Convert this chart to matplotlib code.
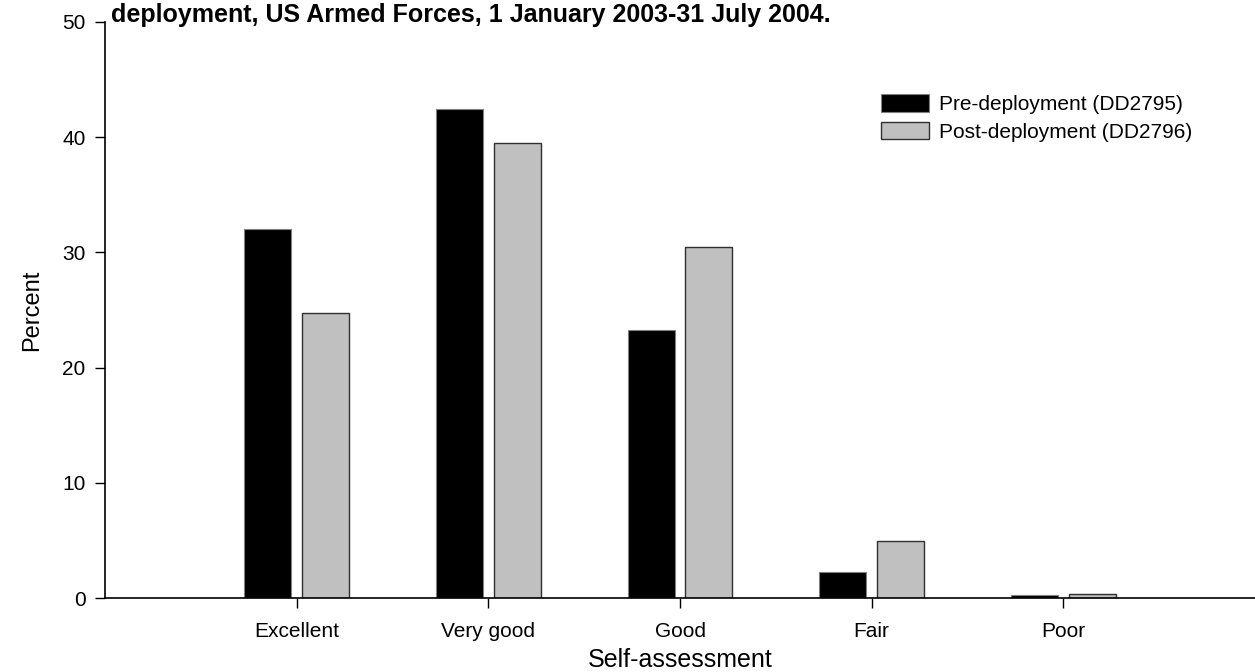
import matplotlib
matplotlib.use("Agg")
import matplotlib.pyplot as plt
import numpy as np

plt.rcParams['font.family'] = ['Liberation Sans', 'DejaVu Sans']

categories = ["Excellent", "Very good", "Good", "Fair", "Poor"]
pre_deployment = [32.0, 42.4, 23.3, 2.3, 0.25]
post_deployment = [24.7, 39.5, 30.5, 5.0, 0.4]
series_labels = ["Pre-deployment (DD2795)", "Post-deployment (DD2796)"]
y_ticks = [0, 10, 20, 30, 40, 50]
title_text = "deployment, US Armed Forces, 1 January 2003-31 July 2004."

fig = plt.figure(figsize=(12.55, 6.72), dpi=100)
ax = fig.add_axes([105 / 1255, (672 - 598.3) / 672, 1150 / 1255, (598.3 - 21.7) / 672])

x = np.arange(len(categories))
w = 0.245
ax.bar(x - 0.15, pre_deployment, width=w, color="black", edgecolor="#808080",
       linewidth=0.8, label=series_labels[0], zorder=2)
ax.bar(x + 0.15, post_deployment, width=w, color="#c0c0c0", edgecolor="#303030",
       linewidth=1.0, label=series_labels[1], zorder=2)

ax.set_xlim(-1, 5)
ax.set_ylim(0, 50)
ax.set_yticks(y_ticks)
ax.set_xticks(x)
ax.set_xticklabels(categories)

for s in ["top", "right"]:
    ax.spines[s].set_visible(False)
for s in ["left", "bottom"]:
    ax.spines[s].set_linewidth(1.2)
    ax.spines[s].set_zorder(3)

ax.tick_params(axis="y", direction="out", length=7, width=1.0, pad=7, labelsize=15)
ax.tick_params(axis="x", direction="out", length=7, width=1.0, pad=10, labelsize=15)

ax.set_ylabel("Percent", fontsize=17, labelpad=14)
ax.set_xlabel("Self-assessment", fontsize=18, labelpad=5)

leg = ax.legend(loc="upper left", bbox_to_anchor=(881 / 1255, 1 - 94 / 672),
                bbox_transform=fig.transFigure, frameon=False, fontsize=15,
                handlelength=2.3, handleheight=0.92, handletextpad=0.5,
                labelspacing=0.37, borderpad=0, borderaxespad=0)

fig.text(111 / 1255, 1 - 22 / 672, title_text, fontsize=18, fontweight="bold",
         ha="left", va="baseline")

fig.savefig("out.png", dpi=100)
